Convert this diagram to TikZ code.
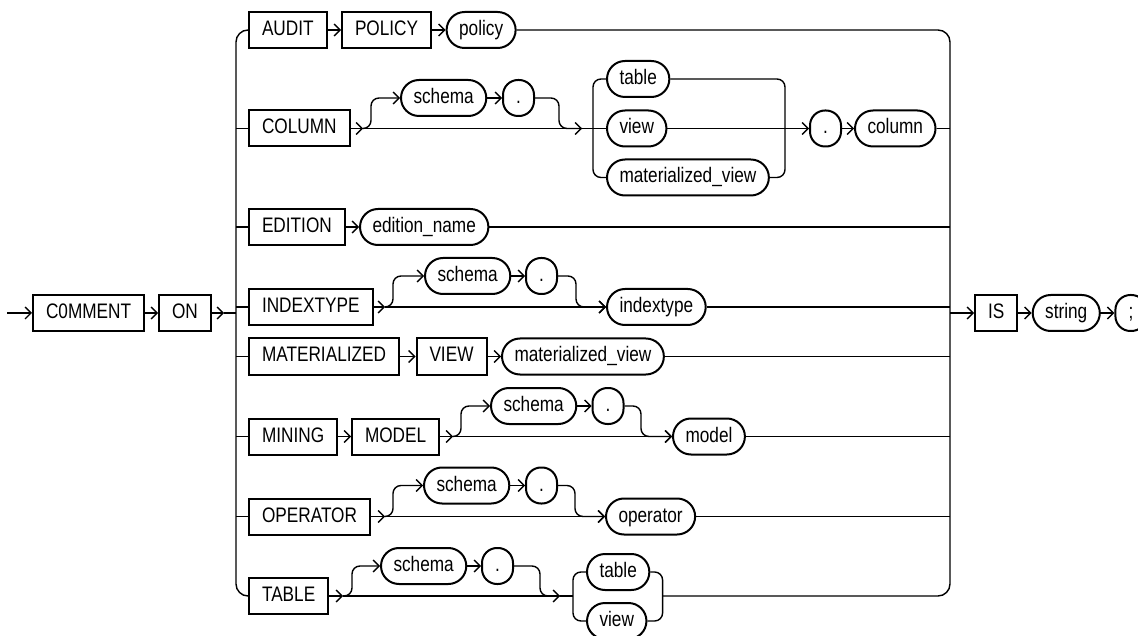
\documentclass[tikz,border=0pt]{standalone}
\usepackage{fontspec}
\setmainfont{Liberation Sans}[FakeStretch=0.82]
\usetikzlibrary{arrows.meta,positioning}

\begin{document}
\begin{tikzpicture}[x=1pt,y=-1pt,
  every node/.style={font=\fontsize{21}{24}\selectfont,text height=15pt,
    text depth=4pt,inner ysep=0pt,minimum height=36pt,line width=2pt},
  kw/.style={draw,anchor=west,inner xsep=13pt},
  ident/.style={draw,anchor=west,rounded corners=18pt,inner xsep=12.5pt},
  sym/.style={draw,anchor=west,rounded corners=15pt,inner xsep=0pt,
    minimum width=31pt},
  rail/.style={line width=1.4pt},
  go/.style={rail,-{Straight Barb[length=6pt,width=12pt]}}]
\useasboundingbox (0,0) rectangle (1138,636);

\coordinate (start) at (7,313);
\node[kw] (comment) at (32,313) {C0MMENT};
\node[kw] (on) at (158,313) {ON};
\coordinate (onh) at (224,313);
\coordinate (lbus) at (236,313);
\coordinate (rbus) at (950,313);

\node[kw] (audit) at (248,30) {AUDIT};
\node[kw] (policyk) at (341,30) {POLICY};
\node[ident] (policy) at (445.6,30) {policy};

\node[kw] (column) at (248,128.5) {COLUMN};
\coordinate (colj) at (363,128.5);
\node[ident] (cschema) at (400,98) {schema};
\node[sym] (cdot) at (502,98) {.};
\coordinate (cin) at (582,128.5);
\coordinate (cbl) at (593,128.5);
\coordinate (cbr) at (785,128.5);
\node[ident] (ctable) at (606,79) {table};
\node[ident] (cview) at (606,128.5) {view};
\node[ident] (cmview) at (606,177.5) {materialized\_view};
\node[sym] (cdot2) at (809,128.5) {.};
\node[ident] (ccol) at (854,128.5) {column};

\node[kw] (edition) at (248,227) {EDITION};
\node[ident] (edname) at (359,227) {edition\_name};

\node[kw] (indextype) at (248,307) {INDEXTYPE};
\coordinate (ij) at (385,307);
\node[ident] (ischema) at (424,276) {schema};
\node[sym] (idot) at (525,276) {.};
\node[ident] (itype) at (606,307) {indextype};

\node[kw] (mat) at (248,356.5) {MATERIALIZED};
\node[kw] (mview) at (415.5,356.5) {VIEW};
\node[ident] (mvname) at (501,356.5) {materialized\_view};

\node[kw] (mining) at (248,436.5) {MINING};
\node[kw] (model) at (351,436.5) {MODEL};
\coordinate (mj) at (453,436.5);
\node[ident] (mschema) at (490,406) {schema};
\node[sym] (mdot) at (591.5,406) {.};
\node[ident] (mname) at (672,436.5) {model};

\node[kw] (operator) at (248,516.5) {OPERATOR};
\coordinate (oj) at (385,516.5);
\node[ident] (oschema) at (423,485.5) {schema};
\node[sym] (odot) at (525,485.5) {.};
\node[ident] (oname) at (605,516.5) {operator};

\node[kw] (table) at (248,596) {TABLE};
\coordinate (tj) at (343,596);
\node[ident] (tschema) at (380,566) {schema};
\node[sym] (tdot) at (481,566) {.};
\coordinate (tin) at (560,596);
\coordinate (tbl) at (573,596);
\coordinate (tbr) at (662.6,596);
\node[ident] (ttable) at (586,572) {table};
\node[ident] (tview) at (586,621) {view};

\node[kw] (is) at (974,313) {IS};
\node[ident] (string) at (1031.7,313) {string};
\node[sym] (semi) at (1114.4,313) {;};

\draw[go] (start) -- (comment.west);
\draw[go] (comment.east) -- (on.west);
\draw[go] (on.east) -- (onh);
\draw[rail] (onh) -- (lbus);

\draw[rail,rounded corners=12pt] (audit.west) -- (lbus |- audit.west)
  -- (lbus |- table.west) -- (table.west);
\foreach \n in {column,edition,indextype,mat,mining,operator}
  \draw[rail] (lbus |- \n.west) -- (\n.west);
\draw[rail,rounded corners=12pt] (policy.east) -- (rbus |- policy.east)
  -- (rbus |- tbr) -- (tbr);
\foreach \n in {ccol,edname,itype,mvname,mname,oname}
  \draw[rail] (\n.east) -- (\n.east -| rbus);

\draw[go] (audit.east) -- (policyk.west);
\draw[go] (policyk.east) -- (policy.west);

\draw[go] (column.east) -- (colj);
\draw[go,rounded corners=8pt] (colj) -| (371,98) -- (cschema.west);
\draw[go] (cschema.east) -- (cdot.west);
\draw[rail,rounded corners=8pt] (cdot.east) -| (559,128.5) -- (cin);
\draw[go] (colj) -- (cin);
\draw[rail] (cin) -- (cview.west);
\draw[rail,rounded corners=8pt] (ctable.west) -- (ctable.west -| cbl)
  -- (cmview.west -| cbl) -- (cmview.west);
\draw[rail,rounded corners=8pt] (ctable.east) -- (ctable.east -| cbr)
  -- (cmview.east -| cbr) -- (cmview.east);
\draw[go] (cview.east) -- (cdot2.west);
\draw[go] (cdot2.east) -- (ccol.west);

\draw[go] (edition.east) -- (edname.west);

\draw[go] (indextype.east) -- (ij);
\draw[go,rounded corners=8pt] (ij) -| (393,276) -- (ischema.west);
\draw[go] (ischema.east) -- (idot.west);
\draw[go,rounded corners=8pt] (idot.east) -| (576,307) -- (itype.west);
\draw[go] (ij) -- (itype.west);

\draw[go] (mat.east) -- (mview.west);
\draw[go] (mview.east) -- (mvname.west);

\draw[go] (mining.east) -- (model.west);
\draw[go] (model.east) -- (mj);
\draw[go,rounded corners=8pt] (mj) -| (461,406) -- (mschema.west);
\draw[go] (mschema.east) -- (mdot.west);
\draw[go,rounded corners=8pt] (mdot.east) -| (641,436.5) -- (mname.west);
\draw[go] (mj) -- (mname.west);

\draw[go] (operator.east) -- (oj);
\draw[go,rounded corners=8pt] (oj) -| (393,485.5) -- (oschema.west);
\draw[go] (oschema.east) -- (odot.west);
\draw[go,rounded corners=8pt] (odot.east) -| (575,516.5) -- (oname.west);
\draw[go] (oj) -- (oname.west);

\draw[go] (table.east) -- (tj);
\draw[go,rounded corners=8pt] (tj) -| (352,566) -- (tschema.west);
\draw[go] (tschema.east) -- (tdot.west);
\draw[rail,rounded corners=8pt] (tdot.east) -| (540,596) -- (tin);
\draw[go] (tj) -- (tin);
\draw[rail] (tin) -- (tbl);
\draw[rail,rounded corners=8pt] (ttable.west) -- (ttable.west -| tbl)
  -- (tview.west -| tbl) -- (tview.west);
\draw[rail,rounded corners=8pt] (ttable.east) -- (ttable.east -| tbr)
  -- (tview.east -| tbr) -- (tview.east);

\draw[go] (rbus) -- (is.west);
\draw[go] (is.east) -- (string.west);
\draw[go] (string.east) -- (semi.west);
\end{tikzpicture}
\end{document}
